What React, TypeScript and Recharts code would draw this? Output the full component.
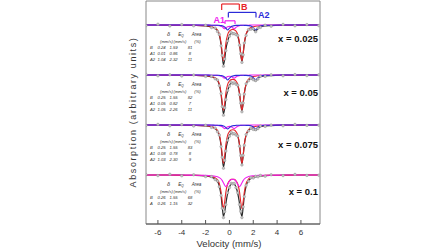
import React from "react";
import { ComposedChart, Line, XAxis, YAxis, ReferenceArea, ReferenceLine } from "recharts";

// velocity grid (mm/s), denser around the doublet lines
const VELOCITY = [-7, -6, -5, -4, -3, -2, -1.5, -1.2, -1.0, -0.85, -0.7, -0.6, -0.5, -0.4, -0.3, -0.15, 0, 0.15, 0.28, 0.4, 0.55, 0.7, 0.85, 0.95, 1.05, 1.15, 1.25, 1.4, 1.6, 1.8, 2.0, 2.2, 2.4, 2.6, 3.0, 3.5, 4.5, 5.5, 6.5, 7.5];

// absorption (%) for each sample
const DATA_025 = [0.3, -0.4, 0.5, -0.2, 0.4, 0.1, 1.3, 1.5, 3.3, 4.7, 10.4, 15.2, 20.6, 17.0, 12.8, 8.0, 5.6, 3.8, 4.4, 4.3, 4.8, 5.3, 10.1, 14.4, 18.7, 14.9, 9.0, 5.2, 2.3, 2.1, 1.9, 3.4, 1.5, 1.2, 0.1, 0.6, -0.3, 0.4, -0.2, 0.3];
const FIT_025 = [0.0, 0.0, 0.1, 0.1, 0.2, 0.4, 1.0, 1.7, 2.9, 5.0, 9.9, 15.6, 20.0, 17.3, 12.3, 8.2, 5.3, 4.1, 4.1, 4.6, 4.4, 5.6, 9.7, 14.7, 18.2, 14.5, 9.3, 4.8, 2.6, 1.8, 2.2, 3.1, 1.8, 0.9, 0.4, 0.3, 0.1, 0.1, 0.0, 0.0];
const B_025 = [0.0, 0.0, 0.1, 0.1, 0.2, 0.4, 0.8, 1.5, 2.6, 4.5, 9.0, 14.3, 17.9, 14.4, 9.2, 4.8, 3.0, 2.4, 2.2, 2.4, 3.0, 4.8, 9.2, 14.4, 17.9, 14.3, 9.0, 4.5, 2.2, 1.3, 0.9, 0.6, 0.5, 0.4, 0.2, 0.2, 0.1, 0.1, 0.0, 0.0];
const A1_025 = [0, 0, 0, 0, 0, 0, 0.1, 0.1, 0.2, 0.3, 0.6, 0.9, 1.5, 1.9, 1.5, 0.9, 0.7, 0.9, 1.4, 1.9, 1.2, 0.6, 0.3, 0.2, 0.2, 0.1, 0.1, 0.1, 0.1, 0, 0, 0, 0, 0, 0, 0, 0, 0, 0, 0];
const A2_025 = [0, 0, 0, 0, 0, 0, 0.1, 0.1, 0.1, 0.2, 0.3, 0.4, 0.6, 1.0, 1.6, 2.5, 1.6, 0.8, 0.5, 0.3, 0.2, 0.2, 0.2, 0.1, 0.1, 0.1, 0.2, 0.2, 0.3, 0.5, 1.3, 2.5, 1.3, 0.5, 0.2, 0.1, 0, 0, 0, 0];

const DATA_05 = [-0.3, 0.4, -0.1, 0.5, 0.0, 0.7, 0.7, 1.9, 2.5, 5.3, 9.3, 15.8, 20.1, 16.4, 12.3, 7.7, 5.6, 3.6, 4.3, 3.9, 4.6, 5.1, 9.9, 14.1, 18.4, 14.0, 9.6, 4.4, 2.9, 1.5, 2.4, 2.8, 2.0, 0.6, 0.7, -0.1, 0.4, -0.2, 0.3, -0.1];
const FIT_05 = [0.0, 0.0, 0.1, 0.1, 0.2, 0.4, 1.0, 1.6, 2.8, 4.9, 9.7, 15.3, 19.5, 16.8, 11.9, 8.0, 5.2, 3.9, 3.9, 4.2, 4.2, 5.4, 9.5, 14.5, 17.9, 14.3, 9.2, 4.7, 2.6, 1.8, 2.1, 3.1, 1.7, 0.9, 0.4, 0.3, 0.1, 0.1, 0.0, 0.0];
const B_05 = [0.0, 0.0, 0.1, 0.1, 0.2, 0.4, 0.8, 1.4, 2.5, 4.4, 8.9, 14.1, 17.6, 14.2, 9.0, 4.7, 3.0, 2.3, 2.2, 2.3, 3.0, 4.7, 9.0, 14.2, 17.6, 14.1, 8.9, 4.4, 2.2, 1.3, 0.8, 0.6, 0.4, 0.4, 0.2, 0.2, 0.1, 0.1, 0.0, 0.0];
const A1_05 = [0, 0, 0, 0, 0, 0, 0.1, 0.1, 0.2, 0.3, 0.5, 0.8, 1.3, 1.6, 1.3, 0.8, 0.6, 0.8, 1.2, 1.6, 1.0, 0.5, 0.3, 0.2, 0.2, 0.1, 0.1, 0.1, 0.1, 0, 0, 0, 0, 0, 0, 0, 0, 0, 0, 0];
const A2_05 = [0, 0, 0, 0, 0, 0, 0.1, 0.1, 0.1, 0.2, 0.3, 0.4, 0.6, 1.0, 1.6, 2.5, 1.6, 0.8, 0.5, 0.3, 0.2, 0.2, 0.2, 0.1, 0.1, 0.1, 0.2, 0.2, 0.3, 0.5, 1.3, 2.5, 1.3, 0.5, 0.2, 0.1, 0, 0, 0, 0];

const DATA_075 = [0.2, -0.3, 0.4, -0.2, 0.5, 0.1, 1.2, 1.5, 3.4, 5.0, 10.8, 16.1, 21.6, 17.7, 13.0, 7.6, 5.6, 3.7, 4.5, 4.3, 5.0, 5.5, 10.6, 15.3, 20.0, 15.2, 10.2, 4.8, 3.0, 1.5, 2.2, 2.4, 1.8, 0.5, 0.7, 0.0, 0.4, -0.3, 0.2, 0.1];
const FIT_075 = [0.0, 0.0, 0.1, 0.1, 0.2, 0.4, 0.9, 1.8, 3.1, 5.3, 10.4, 16.5, 21.0, 18.0, 12.6, 8.0, 5.3, 4.0, 4.2, 4.6, 4.7, 5.8, 10.2, 15.7, 19.4, 15.5, 9.8, 5.1, 2.7, 1.8, 1.9, 2.7, 1.5, 0.8, 0.4, 0.3, 0.1, 0.1, 0.0, 0.0];
const B_075 = [0.0, 0.0, 0.1, 0.1, 0.2, 0.4, 0.8, 1.6, 2.8, 4.8, 9.6, 15.3, 19.1, 15.4, 9.8, 5.1, 3.3, 2.5, 2.4, 2.5, 3.3, 5.1, 9.8, 15.4, 19.1, 15.3, 9.6, 4.8, 2.4, 1.4, 0.9, 0.7, 0.5, 0.4, 0.3, 0.2, 0.1, 0.1, 0.0, 0.0];
const A1_075 = [0, 0, 0, 0, 0, 0, 0.1, 0.1, 0.2, 0.3, 0.6, 0.9, 1.4, 1.8, 1.5, 0.9, 0.7, 0.9, 1.4, 1.8, 1.2, 0.6, 0.3, 0.2, 0.2, 0.1, 0.1, 0.1, 0.1, 0, 0, 0, 0, 0, 0, 0, 0, 0, 0, 0];
const A2_075 = [0, 0, 0, 0, 0, 0, 0, 0.1, 0.1, 0.2, 0.2, 0.3, 0.5, 0.8, 1.3, 2.0, 1.3, 0.6, 0.4, 0.3, 0.2, 0.1, 0.1, 0.1, 0.1, 0.1, 0.1, 0.2, 0.2, 0.4, 1.0, 2.0, 1.0, 0.4, 0.1, 0.1, 0, 0, 0, 0];

const DATA_1 = [-0.2, 0.3, -0.4, 0.4, -0.1, 0.8, 0.8, 2.3, 3.0, 5.9, 10.2, 16.6, 21.3, 18.3, 14.8, 8.9, 6.3, 4.2, 4.5, 4.2, 6.3, 8.9, 14.8, 18.2, 21.3, 15.9, 10.8, 5.2, 3.2, 1.4, 1.5, 0.6, 0.9, 0.2, 0.6, -0.1, 0.3, -0.3, 0.2, 0.1];
const FIT_1 = [0.0, 0.0, 0.0, 0.1, 0.2, 0.5, 1.1, 2.0, 3.3, 5.5, 10.5, 16.2, 20.7, 18.6, 14.4, 9.2, 6.0, 4.5, 4.2, 4.5, 6.0, 9.2, 14.4, 18.6, 20.7, 16.2, 10.5, 5.5, 2.9, 1.7, 1.2, 0.9, 0.6, 0.5, 0.3, 0.2, 0.1, 0.0, 0.0, 0.0];
const B_1 = [0.0, 0.0, 0.0, 0.1, 0.1, 0.3, 0.7, 1.4, 2.4, 4.2, 8.5, 13.4, 16.8, 13.5, 8.6, 4.5, 2.9, 2.2, 2.1, 2.2, 2.9, 4.5, 8.6, 13.5, 16.8, 13.4, 8.5, 4.2, 2.1, 1.2, 0.8, 0.6, 0.4, 0.3, 0.2, 0.1, 0.1, 0.0, 0.0, 0.0];
const A_1 = [0.0, 0.0, 0.0, 0.0, 0.1, 0.2, 0.4, 0.6, 0.9, 1.3, 2.0, 2.8, 3.9, 5.1, 5.8, 4.7, 3.1, 2.3, 2.1, 2.3, 3.1, 4.7, 5.8, 5.1, 3.9, 2.8, 2.0, 1.3, 0.8, 0.5, 0.4, 0.3, 0.2, 0.2, 0.1, 0.1, 0.0, 0.0, 0.0, 0.0];

const PANEL_LABELS = ["x = 0.025", "x = 0.05", "x = 0.075", "x = 0.1"];
const OFFSETS = [0, 25, 50, 75];

// fitted hyperfine parameters: site, delta, EQ, area
const PARAMS_025 = [["B", "0.24", "1.59", "81"], ["A1", "0.01", "0.86", "8"], ["A2", "1.04", "2.32", "11"]];
const PARAMS_05 = [["B", "0.25", "1.55", "82"], ["A1", "0.05", "0.82", "7"], ["A2", "1.05", "2.26", "11"]];
const PARAMS_075 = [["B", "0.25", "1.55", "83"], ["A1", "0.08", "0.78", "8"], ["A2", "1.03", "2.30", "9"]];
const PARAMS_1 = [["B", "0.26", "1.55", "68"], ["A", "0.26", "1.15", "32"]];

// site brackets above the first spectrum: [label, left v, right v, top, bottom, colour]
const BRACKETS: [string, number, number, number, number, string][] = [
  ["B", -0.65, 0.83, -10.5, -7.5, "#e8262a"],
  ["A2", -0.09, 2.23, -6.3, -3.8, "#2b2bd8"],
  ["A1", -0.37, 0.47, -2.1, -0.5, "#f020f0"],
];

const X_TICKS = [-6, -4, -2, 0, 2, 4, 6];

const PANELS = [
  { data: DATA_025, fit: FIT_025, b: B_025, a1: A1_025, a2: A2_025, params: PARAMS_025 },
  { data: DATA_05, fit: FIT_05, b: B_05, a1: A1_05, a2: A2_05, params: PARAMS_05 },
  { data: DATA_075, fit: FIT_075, b: B_075, a1: A1_075, a2: A2_075, params: PARAMS_075 },
  { data: DATA_1, fit: FIT_1, b: B_1, a1: A_1, a2: null, params: PARAMS_1 },
];

const rows = VELOCITY.map((v, i) => {
  const row: Record<string, number> = { v };
  PANELS.forEach((p, k) => {
    const off = OFFSETS[k];
    row[`d${k}`] = off + p.data[i];
    row[`f${k}`] = off + p.fit[i];
    row[`b${k}`] = off + p.b[i];
    row[`a1${k}`] = off + p.a1[i];
    if (p.a2) row[`a2${k}`] = off + p.a2[i];
  });
  return row;
});

const FONT = "Arial, 'Liberation Sans', sans-serif";
const W = 448;
const H = 252;
const LEFT = 146;
const RIGHT = 320;
const TOP = 1;
const BOTTOM = 224;
const Y_DOMAIN: [number, number] = [-12, 99.5];

const yPx = (val: number) => TOP + ((val - Y_DOMAIN[0]) / (Y_DOMAIN[1] - Y_DOMAIN[0])) * (BOTTOM - TOP);

const ParamTable = ({ k }: { k: number }) => {
  const base = yPx(OFFSETS[k]);
  const p = PANELS[k].params;
  const s = { fontFamily: FONT, fontSize: 4.2, fontStyle: "italic" as const, fill: "#333" };
  return (
    <g>
      <text x={168.5} y={base + 11} textAnchor="middle" {...s} fontSize={5.5}>δ</text>
      <text x={181} y={base + 11} textAnchor="middle" {...s} fontSize={4.6}>
        E<tspan fontSize={3.2} dy={1}>Q</tspan>
      </text>
      <text x={196.5} y={base + 11} textAnchor="middle" {...s} fontSize={4.6}>Area</text>
      <text x={166.5} y={base + 17.5} textAnchor="middle" {...s}>(mm/s)</text>
      <text x={180} y={base + 17.5} textAnchor="middle" {...s}>(mm/s)</text>
      <text x={197.5} y={base + 17.5} textAnchor="middle" {...s}>(%)</text>
      {p.map((r, j) => (
        <g key={j}>
          <text x={150} y={base + 24 + j * 6} {...s}>{r[0]}</text>
          <text x={161.5} y={base + 24 + j * 6} textAnchor="middle" {...s}>{r[1]}</text>
          <text x={173.5} y={base + 24 + j * 6} textAnchor="middle" {...s}>{r[2]}</text>
          <text x={190} y={base + 24 + j * 6} textAnchor="middle" {...s}>{r[3]}</text>
        </g>
      ))}
    </g>
  );
};

export default function App() {
  return (
    <div style={{ position: "absolute", left: 0, top: 0, width: W, height: H, background: "#fff" }}>
      <ComposedChart
        width={W}
        height={H}
        data={rows}
        margin={{ top: TOP, right: W - RIGHT, bottom: 0, left: LEFT }}
      >
        <XAxis
          dataKey="v"
          type="number"
          domain={[-7, 7.6]}
          ticks={X_TICKS}
          height={H - BOTTOM}
          tickSize={-4}
          tickMargin={9}
          stroke="#555"
          tick={{ fill: "#333", fontSize: 8, fontFamily: FONT }}
          tickFormatter={(t) => String(t)}
          allowDataOverflow
        />
        <YAxis hide domain={Y_DOMAIN} reversed allowDataOverflow />
        <ReferenceArea x1={-7} x2={7.6} y1={Y_DOMAIN[0]} y2={Y_DOMAIN[1]} fill="none" stroke="#888" strokeWidth={1} />
        {PANELS.map((p, k) => [
          <Line key={`d${k}`} dataKey={`d${k}`} stroke="none" isAnimationActive={false}
            dot={{ r: 1.3, fill: "#c4c4c4", stroke: "#888", strokeWidth: 0.4 }} />,
          <Line key={`f${k}`} dataKey={`f${k}`} type="monotone" stroke="#2a2a2a" strokeWidth={1.2} dot={false} isAnimationActive={false} />,
          <Line key={`b${k}`} dataKey={`b${k}`} type="monotone" stroke="#e8262a" strokeWidth={1.1} dot={false} isAnimationActive={false} />,
          <Line key={`a1${k}`} dataKey={`a1${k}`} type="monotone" stroke="#f020f0" strokeWidth={1.1} dot={false} isAnimationActive={false} />,
          p.a2 ? (
            <Line key={`a2${k}`} dataKey={`a2${k}`} type="monotone" stroke="#2b2bd8" strokeWidth={1.1} dot={false} isAnimationActive={false} />
          ) : null,
        ])}
        {BRACKETS.map(([name, x1, x2, top, bot, color]) => [
          <ReferenceLine key={`${name}h`} segment={[{ x: x1, y: top }, { x: x2, y: top }]} stroke={color} strokeWidth={1.2} />,
          <ReferenceLine key={`${name}l`} segment={[{ x: x1, y: top }, { x: x1, y: bot }]} stroke={color} strokeWidth={1.2} />,
          <ReferenceLine key={`${name}r`} segment={[{ x: x2, y: top }, { x: x2, y: bot }]} stroke={color} strokeWidth={1.2} />,
        ])}
      </ComposedChart>
      <svg width={W} height={H} style={{ position: "absolute", left: 0, top: 0, pointerEvents: "none" }}>
        <text x={241} y={10} fill="#e8262a" fontFamily={FONT} fontWeight="bold" fontSize={9}>B</text>
        <text x={258} y={18} fill="#2b2bd8" fontFamily={FONT} fontWeight="bold" fontSize={9}>A2</text>
        <text x={213.5} y={23} fill="#f020f0" fontFamily={FONT} fontWeight="bold" fontSize={9}>A1</text>
        {PANEL_LABELS.map((t, k) => (
          <text key={t} x={318} y={[42, 96, 148, 195][k]} textAnchor="end" fontFamily={FONT} fontWeight="bold" fontSize={9.5} fill="#111">
            {t}
          </text>
        ))}
        {PANELS.map((_, k) => <ParamTable key={k} k={k} />)}
        <text
          x={0}
          y={0}
          transform="translate(136, 112) rotate(-90)"
          textAnchor="middle"
          fontFamily={FONT}
          fontSize={9}
          letterSpacing={1.6}
          fill="#333"
        >
          Absorption (arbitrary units)
        </text>
        <text x={229} y={247} textAnchor="middle" fontFamily={FONT} fontSize={9.5} fill="#333">
          Velocity (mm/s)
        </text>
      </svg>
    </div>
  );
}
